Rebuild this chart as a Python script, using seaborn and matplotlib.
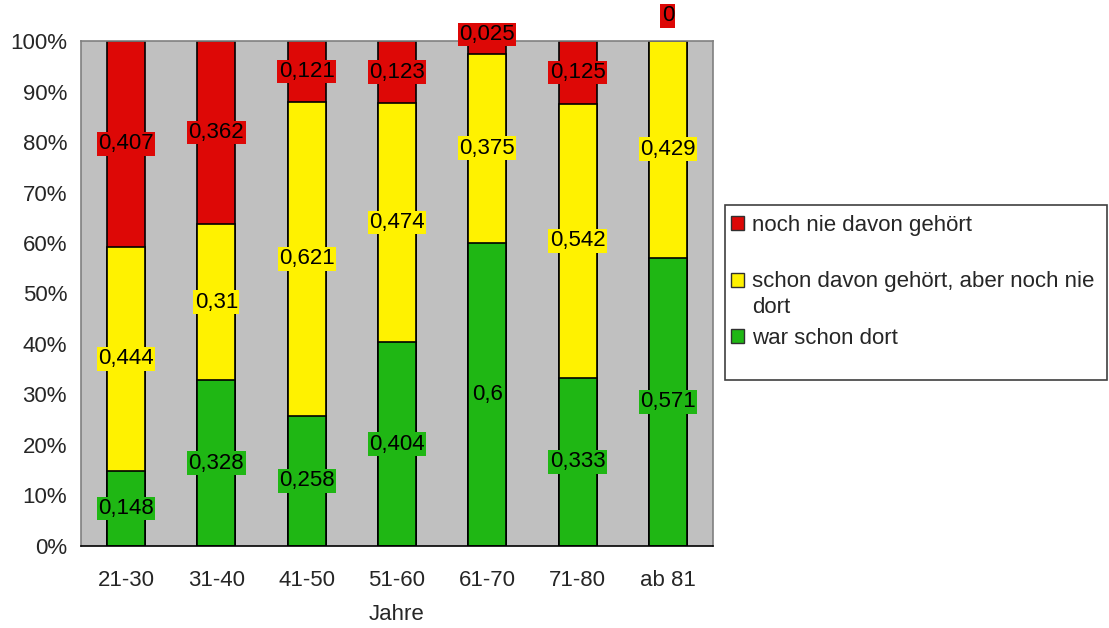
import numpy as np
import pandas as pd
import matplotlib
matplotlib.use("Agg")
import matplotlib.pyplot as plt
from matplotlib.patches import Patch, Rectangle
from matplotlib.ticker import PercentFormatter, FixedLocator
import seaborn as sns

# Daten
altersgruppen = ["21-30", "31-40", "41-50", "51-60", "61-70", "71-80", "ab 81"]
war_schon_dort = [0.148, 0.328, 0.258, 0.404, 0.6, 0.333, 0.571]
schon_gehoert = [0.444, 0.31, 0.621, 0.474, 0.375, 0.542, 0.429]
nie_gehoert = [0.407, 0.362, 0.121, 0.123, 0.025, 0.125, 0]

serien = ["war schon dort", "schon davon gehört, aber noch nie\ndort", "noch nie davon gehört"]
farben = ["#1FB714", "#FFF200", "#DD0806"]

sns.set_style("white")
plt.rcParams["font.family"] = ["Liberation Sans", "DejaVu Sans"]
fs = 16

werte = np.array([war_schon_dort, schon_gehoert, nie_gehoert])
summe = werte.sum(axis=0)
anteil = werte / summe
kumuliert = np.cumsum(anteil, axis=0)

fig = plt.figure(figsize=(11.09, 6.28), dpi=100)
ax = fig.add_axes([0.073, 0.1306, 0.570, 0.8041])
ax.set_facecolor("#C0C0C0")

# gestapelte Balken: oberste Summe zuerst zeichnen
for i in reversed(range(3)):
    df = pd.DataFrame({"Jahre": altersgruppen, "wert": kumuliert[i]})
    sns.barplot(data=df, x="Jahre", y="wert", order=altersgruppen, color=farben[i],
                saturation=1, width=0.42, edgecolor="black", linewidth=1.2, ax=ax)

# Datenbeschriftungen
for i in range(3):
    for j, grp in enumerate(altersgruppen):
        v = werte[i, j]
        unten = kumuliert[i, j] - anteil[i, j]
        y = unten + anteil[i, j] / 2
        if v == 0:
            y = kumuliert[i, j] + 0.05
        elif anteil[i, j] < 0.05:
            # zu schmales Segment: Beschriftung knapp darueber
            y = kumuliert[i, j] + 0.013
        txt = f"{v:g}".replace(".", ",")
        ax.text(j, y, txt, ha="center", va="center", fontsize=fs, color="black",
                clip_on=False,
                bbox=dict(facecolor=farben[i], edgecolor="none", pad=1.0))

ax.set_xlim(-0.5, 6.5)
ax.set_ylim(0, 1)
ax.set_yticks(np.arange(0, 1.01, 0.1))
ax.yaxis.set_major_formatter(PercentFormatter(1.0, decimals=0))
ax.xaxis.set_minor_locator(FixedLocator(np.arange(-0.5, 7, 1)))
ax.tick_params(axis="x", which="major", length=0, labelsize=fs, pad=17)
ax.tick_params(axis="x", which="minor", length=6, width=1, color="black", direction="out")
ax.tick_params(axis="y", which="major", length=6, width=1, color="#808080",
               direction="out", labelsize=fs, pad=4)
ax.set_xlabel("Jahre", fontsize=fs, labelpad=10)
ax.set_ylabel("")

for s in ["top", "right", "left"]:
    ax.spines[s].set_color("#808080")
    ax.spines[s].set_linewidth(1.2)
ax.spines["bottom"].set_color("black")
ax.spines["bottom"].set_linewidth(1.2)

# Legende mit eigenem Rahmen
fig.patches.append(Rectangle((0.654, 0.395), 0.344, 0.279, transform=fig.transFigure,
                             facecolor="white", edgecolor="#404040", linewidth=1.2))
leg_kw = dict(frameon=False, fontsize=fs, handlelength=0.6, handleheight=0.6,
              handletextpad=0.35, borderpad=0, borderaxespad=0, loc="center left")
zeilen_y = [225, 282, 338]  # Pixel von oben
legenden = []
for k, i in enumerate([2, 1, 0]):
    erste_zeile = serien[i].split("\n")[0]
    h = Patch(facecolor=farben[i], edgecolor="#303030", linewidth=1.0, label=erste_zeile)
    legenden.append(fig.legend(handles=[h], bbox_to_anchor=(0.659, 1 - zeilen_y[k] / 628),
                               **leg_kw))

# zweite Zeile des umbrochenen Eintrags, buendig mit dem Legendentext
fig.canvas.draw()
x0 = legenden[1].get_texts()[0].get_window_extent().x0 / fig.bbox.width
fig.text(x0, 1 - 307 / 628, serien[1].split("\n")[1], fontsize=fs,
         ha="left", va="center")

fig.savefig("out.png", dpi=100)
